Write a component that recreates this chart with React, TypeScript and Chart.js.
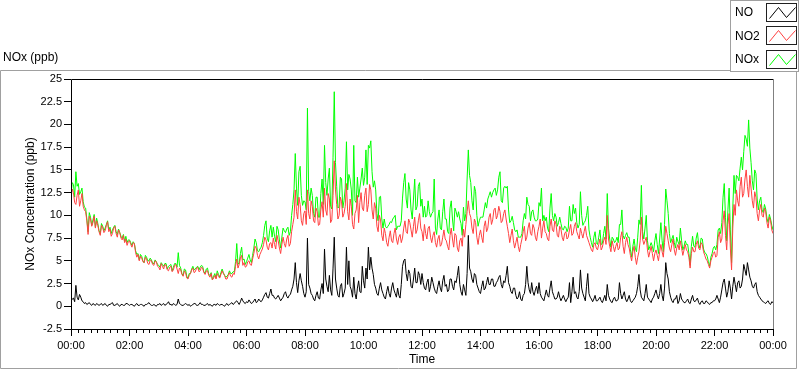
import React, { useEffect, useRef } from "react";
import { Chart, registerables } from "chart.js";

Chart.register(...registerables);

// ---- data (one sample every 2.5 minutes, 00:00 .. 24:00; one row per hour) ----
const SAMPLE_STEP_MIN = 2.5;
const X_TICK_LABELS = ["00:00", "02:00", "04:00", "06:00", "08:00", "10:00", "12:00", "14:00", "16:00", "18:00", "20:00", "22:00", "00:00"];
const Y_TICK_MIN = -2.5;
const Y_TICK_MAX = 25;
const Y_TICK_STEP = 2.5;
const SERIES_NAMES = ["NO", "NO2", "NOx"];
const SERIES_COLORS = ["#000000", "#ff4040", "#00ff00"];

const NO_PPB = [
  0.6, 0.8, 0.9, 0.5, 2.3, 1.0, 0.7, 1.3, 1.0, 0.6, 0.5, 0.3, 0.4, 0.2, 0.3, 0.4, 0.2, 0.1, 0.3, 0.2, 0.1, 0.3, 0.2, 0.1,
  0.2, 0.3, 0.1, 0.2, 0.3, 0.1, 0.0, 0.2, 0.2, 0.3, 0.4, 0.1, 0.1, 0.2, 0.3, 0.1, 0.0, 0.2, 0.2, 0.1, 0.1, 0.3, 0.3, 0.2,
  0.1, 0.2, 0.2, 0.1, 0.0, 0.2, 0.3, 0.1, 0.1, 0.2, 0.2, 0.1, 0.0, 0.2, 0.2, 0.3, 0.4, 0.2, 0.1, 0.1, 0.2, 0.1, 0.0, 0.2,
  0.2, 0.3, 0.1, 0.2, 0.3, 0.1, 0.2, 0.3, 0.5, 0.2, 0.2, 0.1, 0.3, 0.2, 0.1, 0.2, 0.8, 0.3, 0.2, 0.1, 0.1, 0.2, 0.3, 0.2,
  0.1, 0.2, 0.0, 0.1, 0.2, 0.3, 0.3, 0.1, 0.1, 0.2, 0.4, 0.2, 0.2, 0.1, 0.1, 0.2, 0.3, 0.1, 0.2, 0.1, 0.0, 0.2, 0.2, 0.1,
  0.3, 0.2, 0.1, 0.2, 0.2, 0.1, 0.0, 0.2, 0.3, 0.1, 0.2, 0.3, 0.4, 0.2, 0.3, 0.5, 0.6, 0.4, 0.2, 0.5, 0.9, 0.6, 0.4, 0.3,
  0.5, 0.4, 0.7, 0.5, 0.3, 0.4, 0.6, 0.8, 0.4, 0.5, 0.8, 0.6, 0.5, 0.7, 1.0, 1.3, 1.5, 1.0, 0.9, 1.4, 1.9, 1.2, 1.2, 0.9,
  0.8, 1.0, 1.2, 0.9, 0.6, 0.8, 1.0, 1.4, 1.6, 1.1, 0.9, 1.2, 1.3, 1.8, 2.2, 3.0, 4.8, 2.6, 1.5, 2.8, 3.6, 2.8, 2.2, 1.4,
  1.0, 1.6, 7.5, 2.4, 2.0, 1.4, 1.2, 0.8, 0.6, 1.2, 1.6, 0.9, 0.8, 1.8, 2.5, 1.4, 6.3, 3.0, 2.2, 1.6, 3.4, 1.8, 1.2, 4.2,
  7.6, 3.0, 2.0, 1.2, 1.0, 2.2, 2.5, 1.0, 1.4, 2.0, 6.5, 2.4, 5.0, 2.2, 1.8, 1.0, 3.2, 1.4, 0.8, 2.0, 2.8, 1.6, 1.5, 4.4,
  2.8, 2.0, 4.2, 3.0, 6.5, 4.0, 5.4, 4.2, 3.5, 2.4, 2.0, 1.4, 1.2, 2.0, 2.6, 1.8, 1.4, 1.0, 0.8, 1.6, 2.2, 1.4, 1.0, 2.0,
  2.6, 1.8, 1.4, 1.0, 2.0, 1.2, 0.9, 2.4, 4.4, 5.0, 5.2, 3.6, 2.8, 4.0, 3.6, 2.2, 2.0, 3.0, 4.2, 2.6, 2.6, 3.8, 3.4, 2.4,
  3.6, 2.6, 2.0, 1.8, 2.6, 3.0, 1.6, 2.2, 3.2, 2.6, 2.0, 1.6, 1.4, 2.2, 2.8, 2.0, 1.6, 2.8, 3.4, 2.2, 2.4, 1.6, 1.8, 3.0,
  3.0, 2.2, 1.8, 2.8, 2.6, 3.4, 4.4, 2.4, 1.6, 1.2, 2.4, 1.8, 1.2, 3.6, 7.8, 4.2, 3.8, 3.0, 2.6, 3.6, 3.4, 2.4, 2.0, 1.6,
  1.4, 2.2, 2.8, 1.8, 2.0, 2.6, 3.2, 2.4, 2.4, 3.0, 3.0, 2.2, 2.2, 2.6, 2.8, 3.2, 3.4, 2.4, 2.0, 2.8, 2.6, 3.4, 4.4, 2.6,
  2.2, 1.6, 1.4, 2.0, 2.0, 1.2, 0.8, 1.0, 1.6, 0.8, 0.6, 1.2, 1.4, 2.4, 4.4, 2.6, 1.8, 1.4, 2.6, 1.6, 1.2, 1.8, 2.2, 1.4,
  2.6, 1.4, 1.0, 0.8, 0.6, 1.2, 1.8, 1.2, 1.0, 2.0, 2.8, 1.6, 1.2, 0.8, 0.8, 1.0, 1.6, 1.0, 0.6, 0.9, 1.2, 0.8, 0.5, 0.8,
  1.0, 2.6, 0.4, 1.6, 3.2, 1.4, 1.6, 1.0, 0.8, 1.6, 4.0, 2.0, 1.4, 1.0, 0.6, 2.2, 3.6, 1.4, 1.0, 0.8, 0.5, 0.8, 1.2, 0.6,
  0.6, 0.8, 1.0, 0.6, 0.4, 0.8, 1.2, 0.6, 2.4, 1.2, 0.8, 0.5, 0.4, 0.8, 1.0, 0.6, 0.6, 0.8, 2.6, 1.4, 0.8, 1.2, 1.6, 0.8,
  0.5, 0.8, 1.2, 0.6, 0.4, 0.6, 0.8, 1.0, 1.4, 2.2, 3.5, 1.8, 1.0, 0.8, 0.6, 1.4, 2.4, 1.0, 0.8, 0.6, 0.4, 0.8, 1.0, 1.4,
  1.8, 1.2, 0.8, 1.4, 2.4, 1.2, 0.6, 2.0, 4.8, 3.6, 3.0, 1.6, 1.0, 0.6, 0.4, 0.8, 0.8, 1.2, 0.3, 0.6, 1.4, 0.8, 0.6, 0.4,
  0.4, 0.6, 0.8, 0.4, 0.3, 0.8, 1.2, 0.6, 0.5, 0.7, 0.9, 0.4, 0.2, 0.5, 0.6, 0.3, 0.3, 0.6, 0.5, 0.3, 0.2, 0.4, 0.4, 0.6,
  0.6, 0.8, 1.2, 0.8, 0.4, 1.0, 1.8, 2.6, 3.0, 2.0, 1.0, 1.6, 2.8, 2.0, 0.8, 2.2, 3.2, 2.4, 1.6, 2.6, 2.8, 2.0, 2.2, 3.0,
  4.6, 4.0, 3.4, 4.8, 4.0, 3.2, 2.8, 2.2, 2.0, 2.4, 2.6, 1.6, 1.2, 1.0, 0.8, 0.6, 0.5, 0.4, 0.3, 0.5, 0.6, 0.3, 0.2, 0.5,
  0.4,
];

const NO2_PPB = [
  11.8, 12.9, 12.5, 11.4, 11.2, 12.2, 12.8, 11.0, 11.6, 12.4, 11.0, 10.6, 10.4, 9.4, 7.9, 9.9, 9.6, 8.8, 9.2, 9.9, 8.6, 9.4, 8.9, 8.2,
  7.8, 8.9, 8.7, 8.1, 8.3, 8.9, 9.3, 8.2, 8.5, 7.7, 8.0, 8.6, 8.8, 8.0, 7.6, 8.4, 8.1, 7.5, 7.3, 7.8, 7.0, 7.4, 6.7, 7.1,
  7.2, 6.8, 6.5, 7.0, 6.9, 5.9, 5.4, 5.7, 5.0, 5.5, 5.3, 4.9, 4.8, 5.4, 5.2, 4.7, 4.6, 5.1, 5.0, 4.6, 4.5, 5.0, 4.9, 4.4,
  4.3, 4.0, 4.7, 4.4, 4.1, 4.6, 4.5, 4.0, 3.9, 4.3, 4.4, 3.8, 4.0, 4.5, 4.6, 4.1, 3.6, 4.2, 4.0, 3.5, 3.3, 3.9, 3.7, 3.1,
  3.0, 3.4, 3.6, 4.0, 4.2, 3.7, 3.8, 4.2, 4.3, 3.8, 3.9, 4.3, 4.2, 3.7, 3.5, 3.9, 3.9, 3.4, 3.2, 3.6, 2.9, 3.1, 3.4, 3.0,
  3.6, 3.3, 3.1, 3.5, 3.9, 3.6, 3.4, 3.0, 3.0, 3.4, 3.7, 3.3, 3.2, 3.6, 3.5, 4.4, 5.2, 4.2, 4.6, 5.3, 5.6, 4.5, 4.8, 4.3,
  4.4, 4.9, 5.0, 4.6, 4.5, 5.2, 5.8, 6.6, 6.4, 5.6, 5.2, 5.7, 6.0, 6.3, 6.8, 7.6, 7.3, 6.5, 6.2, 6.9, 7.0, 6.4, 7.5, 6.8,
  6.3, 7.8, 7.2, 6.4, 5.8, 6.8, 7.6, 6.9, 6.5, 7.4, 7.8, 6.6, 6.9, 8.2, 9.0, 9.8, 12.8, 10.4, 9.6, 12.0, 11.2, 9.4, 8.9, 10.2,
  10.5, 9.0, 12.8, 10.2, 9.6, 11.6, 11.0, 9.4, 9.2, 10.8, 10.4, 8.9, 9.0, 10.6, 11.5, 9.8, 13.0, 10.6, 10.0, 12.4, 11.8, 9.2, 9.5, 12.2,
  16.0, 12.8, 11.2, 9.6, 10.0, 12.0, 11.5, 9.8, 10.2, 11.0, 13.5, 10.4, 9.5, 11.8, 11.0, 9.0, 8.5, 10.2, 10.6, 12.2, 9.2, 11.4, 12.5, 10.8,
  10.5, 12.2, 13.0, 10.4, 11.2, 13.4, 12.8, 10.6, 9.6, 11.4, 10.8, 8.8, 8.2, 10.0, 9.5, 7.8, 7.2, 8.6, 8.0, 7.0, 6.6, 7.6, 8.3, 7.2,
  7.0, 8.0, 8.6, 7.4, 6.8, 7.6, 7.9, 7.0, 7.5, 8.6, 9.4, 8.2, 8.0, 9.6, 9.2, 8.4, 7.6, 8.8, 9.8, 8.0, 8.4, 9.4, 10.2, 8.6,
  8.2, 7.2, 9.0, 8.0, 7.4, 8.6, 8.8, 7.6, 7.0, 7.8, 8.2, 7.0, 6.5, 7.4, 7.8, 6.6, 6.8, 7.6, 8.4, 7.4, 7.2, 6.6, 6.2, 7.8,
  8.6, 7.4, 6.5, 8.0, 7.8, 6.4, 6.0, 7.2, 7.5, 6.6, 8.5, 7.6, 9.0, 10.4, 11.6, 10.2, 9.8, 8.6, 8.0, 9.6, 9.2, 7.6, 6.8, 7.8,
  8.4, 7.6, 7.0, 8.8, 9.4, 8.2, 8.6, 9.8, 10.2, 9.0, 9.5, 10.6, 10.8, 9.6, 10.0, 11.0, 10.4, 9.2, 9.4, 10.2, 10.6, 9.6, 8.8, 8.0,
  7.0, 7.8, 8.5, 7.2, 6.4, 7.0, 7.6, 6.6, 6.0, 6.8, 7.4, 8.2, 8.8, 7.2, 7.6, 8.6, 9.2, 8.0, 7.8, 9.0, 8.6, 7.6, 7.2, 8.2,
  8.8, 9.6, 7.5, 8.6, 9.4, 8.2, 8.0, 7.4, 7.2, 8.8, 9.6, 8.4, 8.2, 9.4, 9.0, 7.8, 7.6, 8.8, 8.5, 7.6, 7.2, 8.0, 8.2, 7.4,
  7.6, 8.4, 9.0, 7.8, 8.0, 8.8, 9.2, 8.2, 7.8, 7.4, 8.6, 8.0, 7.5, 8.2, 8.8, 7.8, 7.4, 7.0, 6.6, 6.2, 6.0, 6.8, 7.0, 6.4,
  6.2, 6.8, 7.4, 6.2, 6.5, 7.2, 7.6, 6.8, 10.0, 7.4, 6.6, 6.0, 7.2, 6.6, 6.0, 6.6, 7.0, 6.2, 6.4, 7.6, 8.2, 6.6, 5.8, 7.0,
  7.6, 6.8, 6.4, 5.6, 5.0, 6.0, 6.6, 5.4, 4.6, 5.4, 6.0, 7.2, 9.8, 7.4, 6.8, 7.2, 7.6, 6.2, 5.4, 6.0, 6.6, 5.8, 5.0, 5.8,
  6.2, 5.6, 5.0, 6.0, 6.8, 6.0, 5.4, 7.0, 8.8, 8.0, 7.2, 6.4, 6.0, 6.8, 7.4, 6.2, 5.6, 6.4, 6.8, 6.2, 7.2, 6.4, 5.6, 6.2,
  6.8, 6.2, 6.0, 5.4, 4.2, 5.8, 6.5, 6.0, 6.0, 6.8, 7.2, 6.4, 6.2, 7.0, 6.8, 6.0, 5.6, 5.2, 5.0, 4.6, 4.2, 5.0, 5.4, 5.8,
  6.0, 5.4, 5.6, 7.6, 8.2, 7.0, 7.4, 9.4, 10.5, 7.8, 6.2, 9.0, 10.2, 6.4, 4.0, 8.6, 11.2, 10.0, 12.8, 11.6, 11.0, 13.2, 14.2, 12.0,
  12.4, 14.0, 15.0, 13.2, 12.0, 14.4, 13.0, 11.6, 10.8, 12.6, 12.0, 10.2, 9.4, 10.6, 11.2, 10.0, 9.8, 10.8, 10.4, 9.2, 8.6, 9.8, 9.4, 8.4,
  8.0,
];

const NOX_PPB = [
  12.4, 13.6, 13.4, 12.0, 14.8, 13.2, 13.5, 12.3, 12.6, 13.0, 11.5, 10.9, 10.8, 9.6, 8.2, 10.3, 9.8, 8.9, 9.5, 10.1, 8.7, 9.7, 9.1, 8.3,
  8.0, 9.1, 8.8, 8.3, 8.6, 9.0, 9.4, 8.4, 8.7, 8.0, 8.4, 8.7, 8.9, 8.2, 7.9, 8.5, 8.1, 7.7, 7.5, 7.9, 7.1, 7.7, 7.0, 7.3,
  7.3, 7.0, 6.7, 7.1, 6.9, 6.1, 5.7, 5.8, 5.1, 5.7, 5.5, 5.0, 4.8, 5.6, 5.4, 5.0, 5.0, 5.3, 5.1, 4.7, 4.7, 5.1, 4.9, 4.6,
  4.5, 4.3, 4.8, 4.6, 4.4, 4.7, 4.7, 4.1, 4.4, 4.5, 4.6, 3.9, 4.3, 4.7, 4.7, 4.3, 5.9, 4.5, 4.2, 3.6, 3.4, 4.1, 4.0, 3.3,
  3.1, 3.6, 3.6, 4.1, 4.4, 4.0, 4.1, 4.3, 4.4, 4.0, 4.3, 4.5, 4.4, 3.8, 3.6, 4.1, 4.2, 3.5, 3.4, 3.7, 2.9, 3.3, 3.6, 3.1,
  3.9, 3.5, 3.2, 3.7, 4.1, 3.7, 3.4, 3.2, 3.3, 3.5, 3.9, 3.6, 3.6, 3.8, 3.8, 4.9, 6.9, 4.6, 4.8, 5.8, 6.5, 5.1, 5.2, 4.6,
  4.9, 5.3, 5.7, 5.1, 4.8, 5.6, 6.4, 7.4, 7.0, 6.1, 6.0, 6.3, 6.5, 7.0, 7.8, 8.9, 9.4, 7.5, 7.1, 8.3, 8.9, 7.6, 8.7, 7.7,
  7.1, 8.8, 8.4, 7.3, 6.4, 7.6, 8.6, 8.3, 8.1, 8.5, 8.7, 7.8, 8.2, 10.0, 11.2, 12.8, 16.8, 13.0, 11.1, 14.8, 15.4, 12.2, 11.1, 11.6,
  11.5, 10.6, 21.8, 12.6, 11.6, 13.0, 12.2, 10.2, 9.8, 12.0, 12.0, 9.8, 9.8, 12.4, 14.0, 11.2, 17.7, 13.6, 12.2, 14.0, 15.2, 11.0, 10.7, 16.4,
  23.6, 15.8, 13.2, 10.8, 11.0, 14.2, 14.0, 10.8, 11.6, 13.0, 18.1, 12.8, 14.5, 14.0, 12.8, 10.0, 17.7, 11.6, 11.4, 14.2, 12.0, 13.0, 14.0, 15.2,
  13.3, 14.2, 17.2, 13.4, 17.7, 17.4, 18.2, 14.8, 13.1, 13.8, 12.8, 10.2, 9.4, 12.0, 12.1, 9.6, 8.6, 9.6, 8.8, 8.6, 8.8, 9.0, 9.3, 9.2,
  9.6, 9.8, 10.0, 8.4, 8.8, 8.8, 8.8, 9.4, 11.9, 13.6, 14.6, 11.8, 10.8, 13.6, 12.8, 10.6, 9.6, 11.8, 14.0, 10.6, 11.0, 13.2, 13.6, 11.0,
  11.8, 9.8, 11.0, 9.8, 10.0, 11.6, 10.4, 9.8, 10.2, 10.4, 14.0, 8.6, 7.9, 9.6, 10.6, 8.6, 8.4, 10.4, 11.8, 9.6, 9.6, 8.2, 8.0, 10.8,
  11.6, 9.6, 8.3, 10.8, 10.4, 9.8, 10.4, 9.6, 9.1, 7.8, 10.9, 9.4, 10.2, 14.0, 17.2, 14.4, 13.6, 11.6, 10.6, 13.2, 12.6, 10.0, 8.8, 9.4,
  9.8, 9.8, 9.8, 10.6, 11.4, 10.8, 11.8, 12.2, 12.6, 12.0, 12.5, 12.8, 13.0, 12.2, 12.8, 14.2, 14.8, 11.6, 11.4, 13.0, 13.2, 13.0, 13.2, 10.6,
  9.2, 9.4, 9.9, 9.2, 8.4, 8.2, 8.4, 7.6, 7.6, 7.6, 8.0, 9.4, 10.2, 9.6, 12.0, 11.2, 11.0, 9.4, 10.4, 10.6, 9.8, 9.4, 9.4, 9.6,
  11.4, 11.0, 13.0, 9.4, 10.0, 9.4, 9.8, 8.6, 8.2, 10.8, 12.4, 10.0, 9.4, 10.2, 9.8, 8.8, 9.2, 9.8, 9.1, 8.5, 8.4, 8.8, 8.7, 8.2,
  8.6, 11.0, 9.4, 9.4, 11.2, 10.2, 10.8, 9.2, 8.6, 9.0, 12.6, 10.0, 8.9, 9.2, 9.4, 10.0, 11.0, 8.4, 7.6, 7.0, 6.5, 7.6, 8.2, 7.0,
  6.8, 7.6, 8.4, 6.8, 6.9, 8.0, 8.8, 7.4, 12.4, 8.6, 7.4, 6.5, 7.6, 7.4, 7.0, 7.2, 7.6, 7.0, 9.0, 9.0, 10.6, 7.8, 7.4, 7.8,
  8.1, 7.6, 7.6, 6.2, 5.4, 6.6, 7.4, 6.4, 6.0, 7.6, 9.5, 9.0, 13.3, 8.2, 7.4, 8.6, 10.0, 7.2, 6.2, 6.6, 7.0, 6.6, 6.0, 7.2,
  8.0, 6.8, 5.8, 7.4, 9.2, 7.2, 6.0, 9.0, 12.9, 11.6, 10.2, 8.0, 7.0, 7.4, 7.8, 7.0, 6.4, 7.6, 7.1, 6.8, 8.6, 7.2, 6.2, 6.6,
  7.2, 6.8, 6.8, 5.8, 4.5, 6.6, 7.7, 6.6, 6.5, 7.5, 8.1, 6.8, 6.4, 7.5, 7.4, 6.3, 5.9, 5.8, 5.5, 4.9, 4.4, 5.4, 5.8, 6.4,
  6.6, 6.2, 6.8, 8.4, 8.6, 8.0, 9.2, 12.0, 13.5, 9.8, 7.2, 10.6, 13.0, 8.4, 4.8, 10.8, 14.4, 12.4, 14.4, 14.2, 13.8, 15.2, 16.4, 15.0,
  17.0, 18.8, 18.4, 17.6, 20.5, 17.4, 15.8, 13.8, 12.8, 15.0, 14.6, 11.8, 10.6, 11.6, 12.0, 10.6, 10.3, 11.2, 10.7, 9.7, 9.2, 10.1, 9.6, 8.9,
  8.4,
];

const SERIES_VALUES = [NO_PPB, NO2_PPB, NOX_PPB];

const FONT = '"Liberation Sans", Arial, sans-serif';
const X_MAX_MIN = (X_TICK_LABELS.length - 1) * 120;

const decorPlugin = {
  id: "labviewDecor",
  afterDraw(chart: any) {
    const { ctx, chartArea: a, scales } = chart;
    ctx.save();

    // outer panel frame
    ctx.strokeStyle = "#a0a0a0";
    ctx.lineWidth = 1;
    ctx.beginPath();
    ctx.moveTo(0.5, 70.5);
    ctx.lineTo(730, 70.5);
    ctx.moveTo(0.5, 70.5);
    ctx.lineTo(0.5, 368.5);
    ctx.lineTo(796.5, 368.5);
    ctx.lineTo(796.5, 72);
    ctx.stroke();

    // plot box
    ctx.strokeStyle = "#000";
    ctx.beginPath();
    ctx.moveTo(a.left + 0.5, a.bottom + 0.5);
    ctx.lineTo(a.left + 0.5, a.top + 0.5);
    ctx.lineTo(a.right, a.top + 0.5);
    ctx.moveTo(a.left, a.bottom + 0.5);
    ctx.lineTo(a.right + 1, a.bottom + 0.5);
    ctx.stroke();
    ctx.strokeStyle = "#808080";
    ctx.beginPath();
    ctx.moveTo(a.right + 0.5, a.top);
    ctx.lineTo(a.right + 0.5, a.bottom);
    ctx.stroke();

    // minor x ticks
    const xs = scales.x;
    ctx.strokeStyle = "#000";
    ctx.beginPath();
    for (let m = 0; m < X_TICK_LABELS.length - 1; m++) {
      for (let k = 1; k < 9; k++) {
        const px = Math.round(xs.getPixelForValue(m * 120 + (k * 120) / 9)) + 0.5;
        ctx.moveTo(px, a.bottom);
        ctx.lineTo(px, a.bottom + 4);
      }
    }
    ctx.stroke();

    // titles
    ctx.fillStyle = "#000";
    ctx.font = `12px ${FONT}`;
    ctx.textBaseline = "middle";
    ctx.textAlign = "left";
    ctx.fillText("NOx (ppb)", 3, 58);
    ctx.textAlign = "center";
    ctx.fillText("Time", (a.left + a.right) / 2, 360);
    ctx.save();
    ctx.translate(31, (a.top + a.bottom) / 2);
    ctx.rotate(-Math.PI / 2);
    ctx.fillText("NOx Concentration (ppb)", 0, 0);
    ctx.restore();

    // legend
    ctx.fillStyle = "#fff";
    ctx.fillRect(730, 0, 69, 72);
    ctx.strokeStyle = "#a0a0a0";
    ctx.strokeRect(730.5, 0.5, 68, 71);
    SERIES_NAMES.forEach((name, i) => {
      const dy = i * 23.3;
      ctx.fillStyle = "#000";
      ctx.textAlign = "left";
      ctx.font = `12px ${FONT}`;
      ctx.fillText(name, 735, 13 + dy);
      const bx = 766.5;
      const by = Math.round(3 + dy) + 0.5;
      ctx.strokeStyle = "#202020";
      ctx.lineWidth = 1;
      ctx.strokeRect(bx, by, 30, 18);
      ctx.strokeStyle = SERIES_COLORS[i];
      ctx.beginPath();
      ctx.moveTo(bx + 3, by + 15);
      ctx.lineTo(bx + 12, by + 4);
      ctx.lineTo(bx + 20, by + 14);
      ctx.lineTo(bx + 29, by + 4);
      ctx.stroke();
    });

    ctx.restore();
  },
};

export default function App() {
  const ref = useRef<HTMLCanvasElement | null>(null);

  useEffect(() => {
    document.body.style.margin = "0";
    const canvas = ref.current;
    if (!canvas) return;
    const datasets = SERIES_NAMES.map((name, i) => ({
      label: name,
      data: SERIES_VALUES[i].map((y, j) => ({ x: j * SAMPLE_STEP_MIN, y })),
      borderColor: SERIES_COLORS[i],
      backgroundColor: SERIES_COLORS[i],
      borderWidth: 1,
      pointRadius: 0,
      tension: 0,
      fill: false,
    }));
    const chart = new Chart(canvas, {
      type: "line",
      data: { datasets },
      options: {
        animation: false,
        responsive: false,
        devicePixelRatio: 1,
        layout: { padding: { top: 79, right: 27, left: 0, bottom: 0 } },
        plugins: { legend: { display: false }, tooltip: { enabled: false } },
        scales: {
          x: {
            type: "linear",
            min: 0,
            max: X_MAX_MIN,
            afterBuildTicks: (s: any) => {
              s.ticks = X_TICK_LABELS.map((_, i) => ({ value: i * 120 }));
            },
            ticks: {
              autoSkip: false,
              maxRotation: 0,
              padding: 3,
              color: "#000",
              font: { family: FONT, size: 11 },
              callback: (v: any) => X_TICK_LABELS[Math.round(Number(v) / 120)],
            },
            grid: { display: true, drawOnChartArea: false, drawTicks: true, tickLength: 7, color: "#000" },
            border: { display: false },
            afterFit: (s: any) => {
              s.height = 40;
            },
          },
          y: {
            type: "linear",
            min: Y_TICK_MIN,
            max: Y_TICK_MAX,
            ticks: {
              stepSize: Y_TICK_STEP,
              padding: 2,
              color: "#000",
              font: { family: FONT, size: 11 },
              callback: (v: any) => {
                const n = Number(v);
                return Number.isInteger(n) ? String(n) : n.toFixed(1);
              },
            },
            grid: { display: true, drawOnChartArea: false, drawTicks: true, tickLength: 7, color: "#000" },
            border: { display: false },
            afterFit: (s: any) => {
              s.width = 71;
            },
          },
        },
      },
      plugins: [decorPlugin],
    } as any);
    return () => chart.destroy();
  }, []);

  return (
    <div style={{ width: 800, height: 369, background: "#fff" }}>
      <canvas ref={ref} width={800} height={369} style={{ display: "block" }} />
    </div>
  );
}
